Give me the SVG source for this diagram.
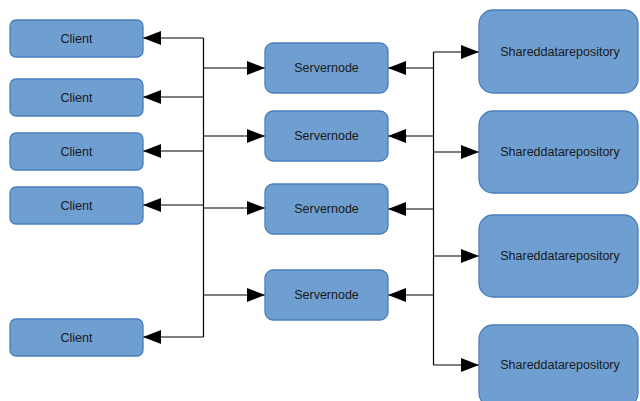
<svg xmlns="http://www.w3.org/2000/svg" width="640" height="401" viewBox="0 0 640 401">
  <defs>
    <marker id="arrow" viewBox="0 0 18 14" refX="18" refY="7" markerWidth="18" markerHeight="14" markerUnits="userSpaceOnUse" orient="auto">
      <path d="M0,0 L18,7 L0,14 Z" fill="#000"/>
    </marker>
    <style>
      .box { fill: #6f9fd0; stroke: #4a7ebb; stroke-width: 1.3; }
      .label { font-family: "Liberation Sans", Arial, sans-serif; font-size: 12.5px; fill: #1a1a1a; text-anchor: middle; dominant-baseline: central; }
      .wire { fill: none; stroke: #000; stroke-width: 1.2; }
      .arr { marker-end: url(#arrow); }
    </style>
  </defs>
  <rect width="640" height="401" fill="#fff"/>

  <!-- connectors -->
  <g id="connectors">
    <!-- left bus: clients and servers -->
    <line class="wire" x1="203.5" y1="38" x2="203.5" y2="337"/>
    <line class="wire arr" x1="203.5" y1="38" x2="143" y2="38"/>
    <line class="wire arr" x1="203.5" y1="97" x2="143" y2="97"/>
    <line class="wire arr" x1="203.5" y1="151" x2="143" y2="151"/>
    <line class="wire arr" x1="203.5" y1="205" x2="143" y2="205"/>
    <line class="wire arr" x1="203.5" y1="337" x2="143" y2="337"/>
    <line class="wire arr" x1="203.5" y1="68" x2="265" y2="68"/>
    <line class="wire arr" x1="203.5" y1="136" x2="265" y2="136"/>
    <line class="wire arr" x1="203.5" y1="208" x2="265" y2="208"/>
    <line class="wire arr" x1="203.5" y1="295" x2="265" y2="295"/>
    <!-- right bus: servers and repositories -->
    <line class="wire" x1="433.5" y1="52" x2="433.5" y2="365"/>
    <line class="wire arr" x1="433.5" y1="68" x2="388" y2="68"/>
    <line class="wire arr" x1="433.5" y1="136" x2="388" y2="136"/>
    <line class="wire arr" x1="433.5" y1="209" x2="388" y2="209"/>
    <line class="wire arr" x1="433.5" y1="295" x2="388" y2="295"/>
    <line class="wire arr" x1="433.5" y1="52" x2="479" y2="52"/>
    <line class="wire arr" x1="433.5" y1="152" x2="479" y2="152"/>
    <line class="wire arr" x1="433.5" y1="256" x2="479" y2="256"/>
    <line class="wire arr" x1="433.5" y1="365" x2="479" y2="365"/>
  </g>

  <!-- clients -->
  <g id="client1"><rect class="box" x="10" y="20" width="133" height="37" rx="6"/><text class="label" x="76.5" y="38.5">Client</text></g>
  <g id="client2"><rect class="box" x="10" y="79" width="133" height="37" rx="6"/><text class="label" x="76.5" y="97.5">Client</text></g>
  <g id="client3"><rect class="box" x="10" y="133" width="133" height="37" rx="6"/><text class="label" x="76.5" y="151.5">Client</text></g>
  <g id="client4"><rect class="box" x="10" y="187" width="133" height="37" rx="6"/><text class="label" x="76.5" y="205.5">Client</text></g>
  <g id="client5"><rect class="box" x="10" y="319" width="133" height="37" rx="6"/><text class="label" x="76.5" y="337.5">Client</text></g>

  <!-- server nodes -->
  <g id="server1"><rect class="box" x="265" y="43" width="123" height="50" rx="8"/><text class="label" x="326.5" y="68">Servernode</text></g>
  <g id="server2"><rect class="box" x="265" y="111" width="123" height="50" rx="8"/><text class="label" x="326.5" y="136">Servernode</text></g>
  <g id="server3"><rect class="box" x="265" y="184" width="123" height="50" rx="8"/><text class="label" x="326.5" y="209">Servernode</text></g>
  <g id="server4"><rect class="box" x="265" y="270" width="123" height="50" rx="8"/><text class="label" x="326.5" y="295">Servernode</text></g>

  <!-- shared data repositories -->
  <g id="repo1"><rect class="box" x="479" y="10" width="159" height="83" rx="14"/><text class="label" x="560" y="52">Shareddatarepository</text></g>
  <g id="repo2"><rect class="box" x="479" y="111" width="159" height="82" rx="14"/><text class="label" x="560" y="152">Shareddatarepository</text></g>
  <g id="repo3"><rect class="box" x="479" y="215" width="159" height="82" rx="14"/><text class="label" x="560" y="256">Shareddatarepository</text></g>
  <g id="repo4"><rect class="box" x="479" y="325" width="159" height="82" rx="14"/><text class="label" x="560" y="365">Shareddatarepository</text></g>
</svg>
